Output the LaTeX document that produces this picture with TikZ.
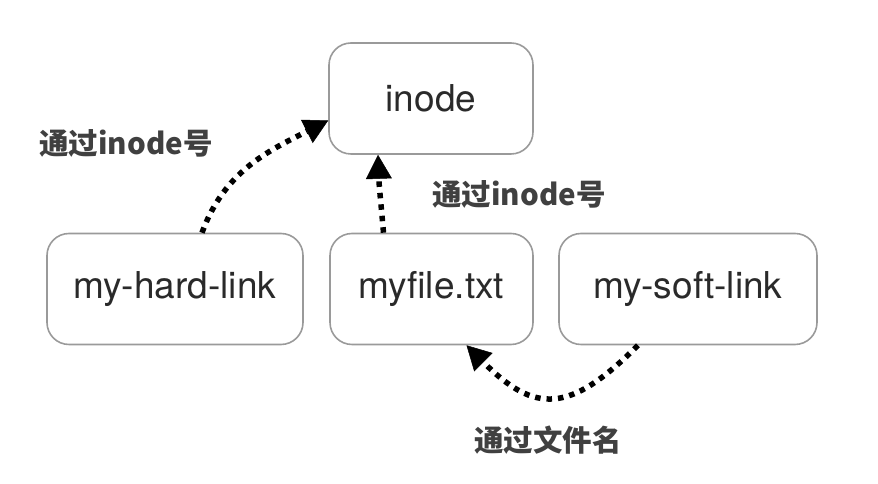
\documentclass[tikz,border=0pt]{standalone}
\usepackage{fontspec}
\setmainfont{TeX Gyre Heros}
\newfontfamily\cjk{Noto Sans CJK SC}
\usetikzlibrary{arrows.meta,positioning}

\definecolor{boxline}{HTML}{9A9A9A}
\definecolor{labeltext}{HTML}{404040}
\definecolor{nodetext}{HTML}{2A2A2A}

\begin{document}
\begin{tikzpicture}[x=1pt, y=1pt,
  filebox/.style={draw=boxline, line width=1.6pt, rounded corners=22pt, fill=white,
    minimum height=111pt, text=nodetext, font=\fontsize{37}{42}\selectfont},
  linklabel/.style={text=labeltext, font=\cjk\bfseries\fontsize{29.5}{34}\selectfont},
  dotarrow/.style={line width=5.5pt, dash pattern=on 5.5pt off 6pt,
    -{Triangle[length=24pt,width=26pt,line width=0.5pt]}}
]
\useasboundingbox (0,0) rectangle (878,484);

\node[filebox, minimum width=204pt] (inode) at (431,385.5) {inode};
\node[filebox, minimum width=256pt] (hard) at (175,195) {my-hard-link};
\node[filebox, minimum width=203pt] (file) at (431.5,195) {myfile.txt};
\node[filebox, minimum width=258pt] (soft) at (688,195) {my-soft-link};

\node[linklabel] (lbl1) at (126,341) {通过inode号};
\node[linklabel] (lbl2) at (519,290) {通过inode号};
\node[linklabel] (lbl3) at (548,44) {通过文件名};

\draw[dotarrow] ([xshift=27pt]hard.north) to[out=70,in=207] ([yshift=-22pt]inode.west);
\draw[dotarrow] ([xshift=-48pt]file.north) to[out=95,in=-88] ([xshift=-53pt]inode.south);
\draw[dotarrow] ([xshift=-50pt]soft.south) to[out=225,in=-45,looseness=1.45] ([xshift=35pt]file.south);
\end{tikzpicture}
\end{document}
